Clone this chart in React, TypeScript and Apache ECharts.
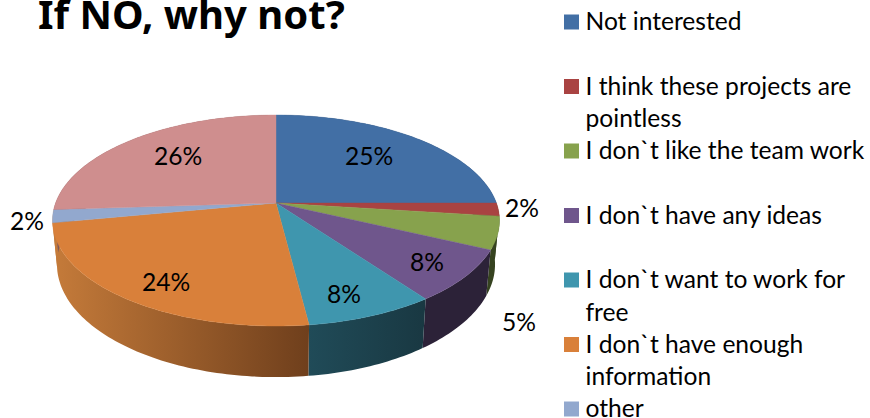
import React, { useEffect, useRef } from "react";
import * as echarts from "echarts";

const titleText = "If NO, why not?";
const categories = [
  "Not interested",
  "I think these projects are\npointless",
  "I don`t like the team work",
  "I don`t have any ideas",
  "I don`t want to work for\nfree",
  "I don`t have enough\ninformation",
  "other",
  "Other reasons",
];
const values = [25, 2, 5, 8, 8, 24, 2, 26];
const topColors = ["#426FA5", "#A94342", "#87A24D", "#6F568C", "#3F96AE", "#D9803A", "#92A8CE", "#CF8E8E"];
const sideFrom = ["#2A4365", "#364320", "#364320", "#2C2238", "#204B58", "#C57B3A", "#C57B3A", "#7F5757"];
const sideTo = ["#2A4365", "#364320", "#364320", "#2C2238", "#193842", "#6F3F1C", "#C57B3A", "#7F5757"];
const labelAnchors = [
  [369, 155], [522, 207], [519, 321], [427, 261], [344, 293], [166, 281], [27, 220], [178, 155],
];

const CX = 276, CY = 203, RX = 220.4, RY = 102.6, P = 0.166, DEPTH = 42.6, SHRINK = 0.98;
const LEGEND_COUNT = 7;
const FONT = "Lato, Carlito, Calibri, sans-serif";

const total = values.reduce((a, b) => a + b, 0);
const angleAt = (i: number) =>
  (values.slice(0, i).reduce((a, b) => a + b, 0) / total) * Math.PI * 2;

const project = (theta: number, bottom: boolean): number[] => {
  const u = Math.sin(theta);
  const v = -Math.cos(theta);
  const w = 1 - P * v;
  const x = (RX * u) / w;
  const y = (RY * v) / w;
  return bottom
    ? [CX + x * SHRINK, CY + y + DEPTH / w]
    : [CX + x, CY + y];
};

const arc = (i: number, bottom: boolean) => {
  const a0 = angleAt(i);
  const a1 = angleAt(i + 1);
  const n = Math.max(4, Math.ceil((a1 - a0) / 0.02));
  const pts: number[][] = [];
  for (let k = 0; k <= n; k++) pts.push(project(a0 + ((a1 - a0) * k) / n, bottom));
  return pts;
};

const seriesData = values.map((v, i) => ({ value: v, name: categories[i] }));

export default function App() {
  const ref = useRef<HTMLDivElement>(null);
  useEffect(() => {
    const chart = echarts.init(ref.current!, undefined, { renderer: "svg" });
    chart.setOption({
      animation: false,
      backgroundColor: "#fff",
      title: {
        text: titleText,
        left: 38,
        top: -7,
        padding: 0,
        textStyle: { fontFamily: "'Noto Sans', sans-serif", fontSize: 40, fontWeight: "bold", color: "#000" },
      },
      graphic: categories.slice(0, LEGEND_COUNT).flatMap((c, i) => {
        const rowY = 22 + i * 64.5;
        return [
          {
            type: "rect",
            shape: { x: 564, y: rowY - 7.5, width: 15, height: 15 },
            style: { fill: topColors[i] },
          },
          {
            type: "text",
            x: 585.5,
            y: rowY - 17.5,
            style: {
              text: c,
              fill: "#000",
              font: `24.6px ${FONT}`,
              lineHeight: 32.5,
              align: "left",
              verticalAlign: "top",
            },
          },
        ];
      }),
      series: [
        {
          type: "custom",
          coordinateSystem: "none",
          silent: true,
          data: seriesData,
          renderItem: (params: any) => {
            const i = params.dataIndex;
            const pts = [...arc(i, false), ...arc(i, true).reverse()];
            const fill = new echarts.graphic.LinearGradient(0, 0, 1, 0, [
              { offset: 0, color: sideFrom[i] },
              { offset: 1, color: sideTo[i] },
            ]);
            return { type: "polygon", shape: { points: pts }, style: { fill } };
          },
        },
        {
          type: "custom",
          coordinateSystem: "none",
          silent: true,
          data: seriesData,
          renderItem: (params: any) => {
            const i = params.dataIndex;
            const pts = [[CX, CY], ...arc(i, false)];
            return {
              type: "polygon",
              shape: { points: pts },
              style: { fill: topColors[i], stroke: topColors[i], lineWidth: 0.4 },
            };
          },
        },
        {
          type: "custom",
          coordinateSystem: "none",
          silent: true,
          data: seriesData,
          renderItem: (params: any, api: any) => {
            const i = params.dataIndex;
            return {
              type: "text",
              x: labelAnchors[i][0],
              y: labelAnchors[i][1],
              style: {
                text: `${api.value(0)}%`,
                fill: "#000",
                font: `24.6px ${FONT}`,
                align: "center",
                verticalAlign: "middle",
              },
            };
          },
        },
      ],
    });
    return () => chart.dispose();
  }, []);
  return <div ref={ref} style={{ position: "fixed", left: 0, top: 0, width: 870, height: 418 }} />;
}
